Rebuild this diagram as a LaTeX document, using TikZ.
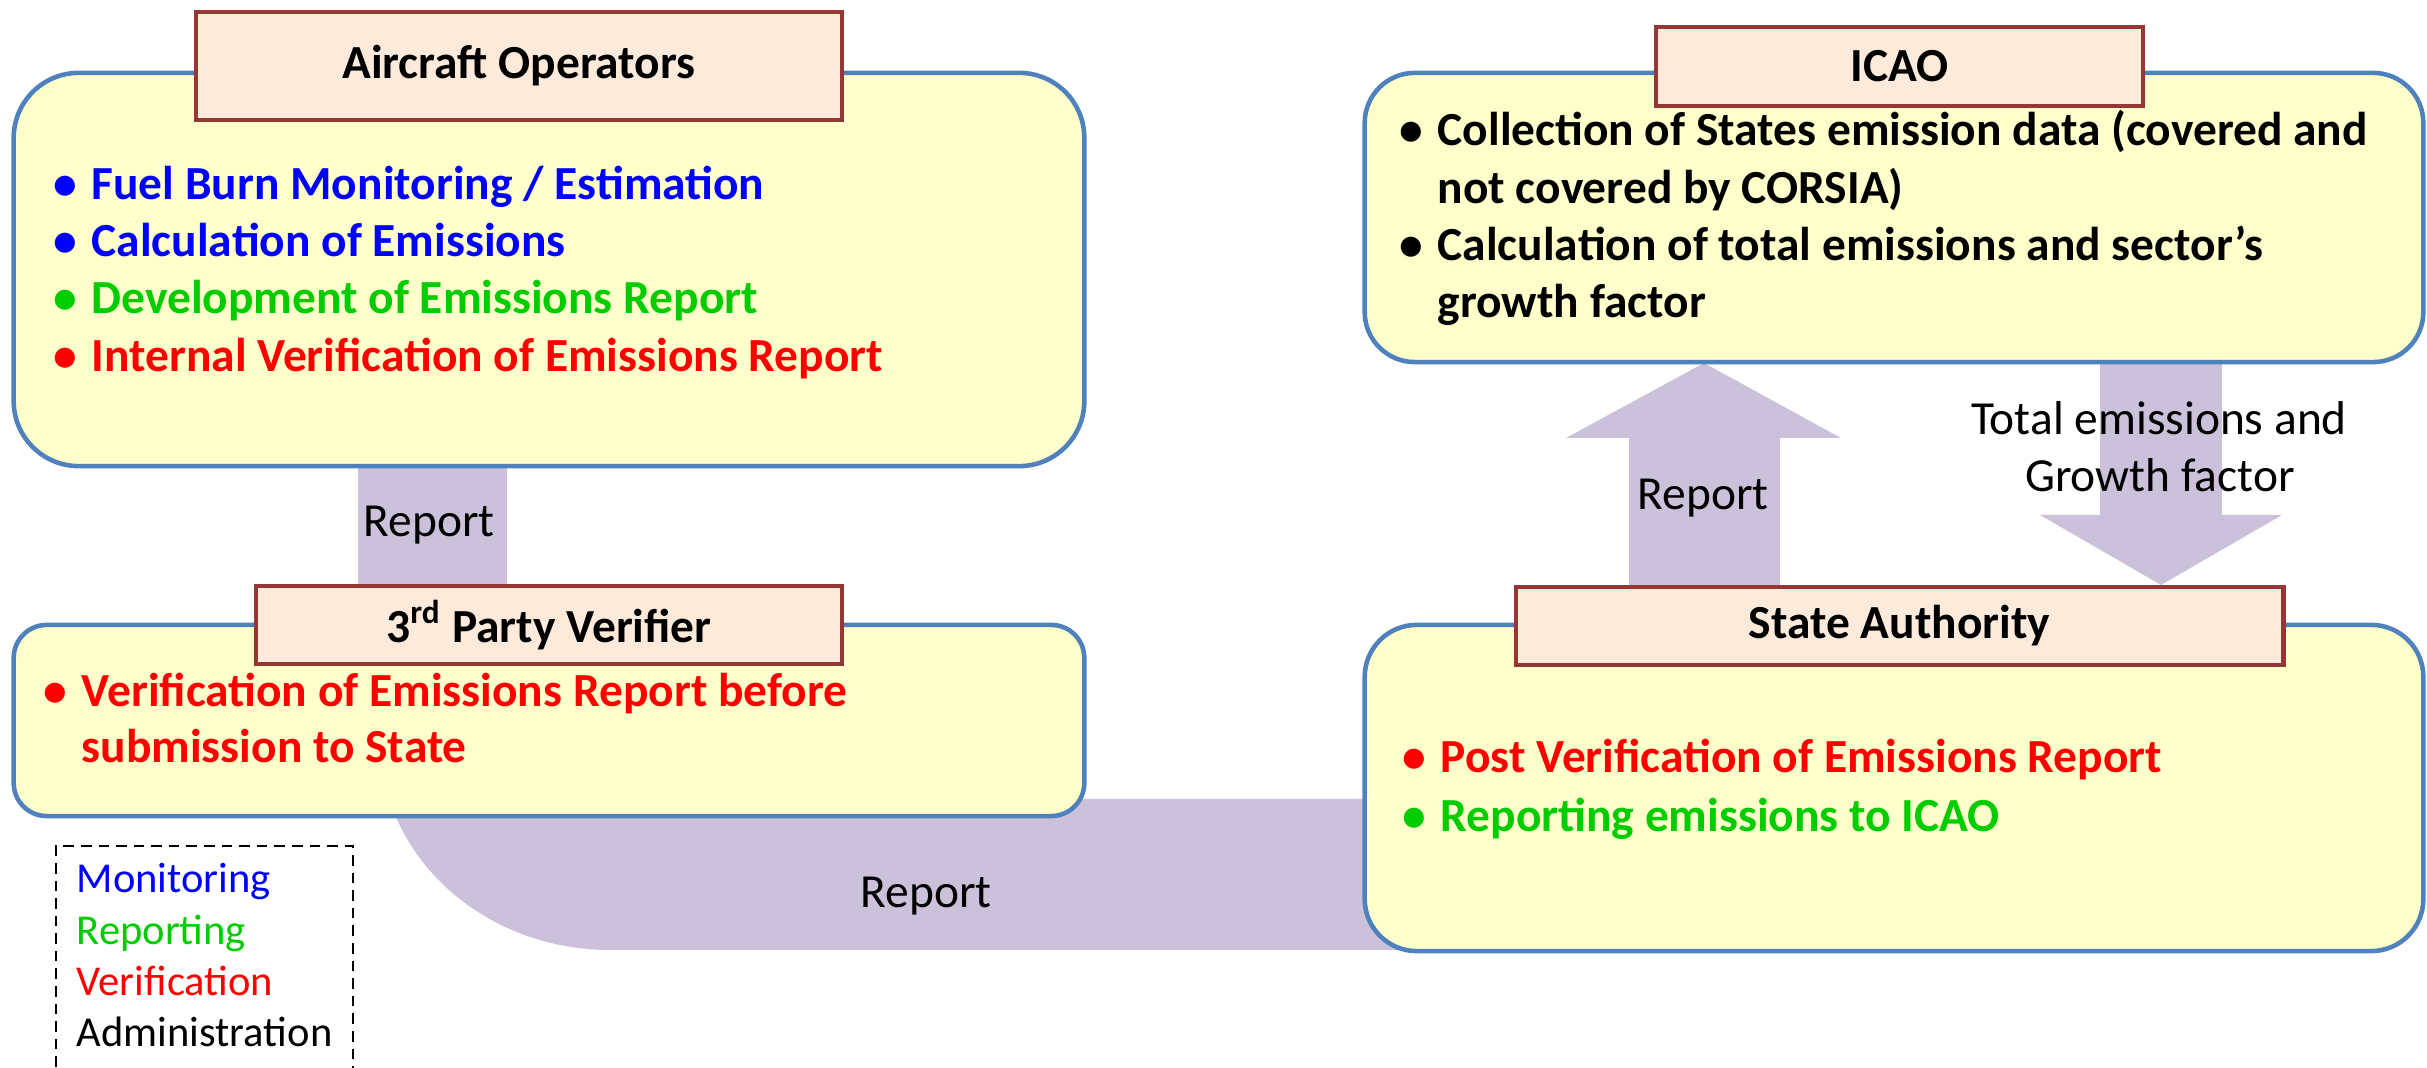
\documentclass[tikz,border=0pt]{standalone}
\usepackage{fontspec}
\setmainfont{Carlito}
\definecolor{panelfill}{HTML}{FFFFCC}
\definecolor{panelblue}{HTML}{4F81BD}
\definecolor{headfill}{HTML}{FDEADA}
\definecolor{headred}{HTML}{953735}
\definecolor{bandlav}{HTML}{CCC1DA}
\definecolor{monblue}{HTML}{0000FF}
\definecolor{repgreen}{HTML}{00CC00}
\definecolor{verred}{HTML}{FF0000}
\newcommand{\bul}{\makebox[0.38cm][l]{\textbullet}}

\begin{document}
\begin{tikzpicture}
[x=0.01cm, y=-0.01cm,
    panel/.style={draw=panelblue, fill=panelfill, line width=1.3pt},
    head/.style={draw=headred, fill=headfill, line width=1.3pt, inner sep=0pt,
        font=\bfseries\fontsize{13.5}{16}\selectfont},
    item/.style={anchor=base west, inner sep=0pt, font=\bfseries\fontsize{13.5}{16}\selectfont},
    lab/.style={anchor=base, inner sep=0pt, font=\fontsize{13.5}{16}\selectfont},
    leg/.style={anchor=base west, inner sep=0pt, font=\fontsize{12.1}{15}\selectfont},
    legbox/.style={draw, densely dashed, line width=.5pt},
    band/.style={fill=bandlav}]
\clip (0,0) rectangle (2427,1068);
%%%%%%%%%%
%%%%% the broad arrows, behind everything
\fill[band] (358,440) rectangle (507,600);
\fill[band] (380,740) .. controls (380,856) and (483,950) .. (610,950)
    -- (1400,950) -- (1400,799) -- (1000,799) -- (1000,740) -- cycle;
\fill[band] (1629,600) -- (1629,438) -- (1566,438) -- (1704,363)
    -- (1841,438) -- (1780,438) -- (1780,600) -- cycle;
\fill[band] (2100,340) -- (2100,515) -- (2040,515) -- (2161,585)
    -- (2282,515) -- (2222,515) -- (2222,340) -- cycle;
%%
%%%%% panels
\node (ao) [panel, rounded corners=0.65cm, minimum width=10.7cm, minimum height=3.93cm] at (549,269.5) {};
\node (icao) [panel, rounded corners=0.5cm, minimum width=10.58cm, minimum height=2.89cm] at (1894,217.5) {};
\node (tpv) [panel, rounded corners=0.33cm, minimum width=10.7cm, minimum height=1.91cm] at (549,720.5) {};
\node (sa) [panel, rounded corners=0.52cm, minimum width=10.58cm, minimum height=3.26cm] at (1894,788) {};
%% headings
\node (aoh) [head, minimum width=6.46cm, minimum height=1.08cm] at (519,66) {Aircraft Operators};
\node (icaoh) [head, minimum width=4.87cm, minimum height=.79cm] at (1899.5,66.5) {ICAO};
\node (tpvh) [head, minimum width=5.86cm, minimum height=.78cm] at (549,625) {3\textsuperscript{rd} Party Verifier};
\node (sah) [head, minimum width=7.67cm, minimum height=.78cm] at (1899.5,626) {State Authority};
%%
%%%%% aircraft operators
\node (ao1) [item, text=monblue] at (53,200) {\bul Fuel Burn Monitoring / Estimation};
\node (ao2) [item, text=monblue] at (53,257) {\bul Calculation of Emissions};
\node (ao3) [item, text=repgreen] at (53,314) {\bul Development of Emissions Report};
\node (ao4) [item, text=verred] at (53,372) {\bul Internal Verification of Emissions Report};
%% icao
\node (ic1) [item] at (1399,146) {\bul Collection of States emission data (covered and};
\node (ic2) [item] at (1437,204) {not covered by CORSIA)};
\node (ic3) [item] at (1399,261) {\bul Calculation of total emissions and sector’s};
\node (ic4) [item] at (1437,318) {growth factor};
%% verifier
\node (tp1) [item, text=verred] at (43,707) {\bul Verification of Emissions Report before};
\node (tp2) [item, text=verred] at (81,763) {submission to State};
%% state authority
\node (sa1) [item, text=verred] at (1402,773) {\bul Post Verification of Emissions Report};
\node (sa2) [item, text=repgreen] at (1402,832) {\bul Reporting emissions to ICAO};
%%
%%%%% arrow labels
\node (r1) [lab] at (429,537) {Report};
\node (r2) [lab] at (926,908) {Report};
\node (r3) [lab] at (1703,510) {Report};
\node (tg1) [lab] at (2159,435) {Total emissions and};
\node (tg2) [lab] at (2160,492) {Growth factor};
%%
%%%%% legend
\node (legend) [legbox, anchor=north west, minimum width=2.97cm, minimum height=2.5cm] at (55,845) {};
\node (lm) [leg, text=monblue] at (76,893) {Monitoring};
\node (lr) [leg, text=repgreen] at (76,945) {Reporting};
\node (lv) [leg, text=verred] at (76,996) {Verification};
\node (la) [leg] at (76,1047) {Administration};
\end{tikzpicture}
\end{document}
